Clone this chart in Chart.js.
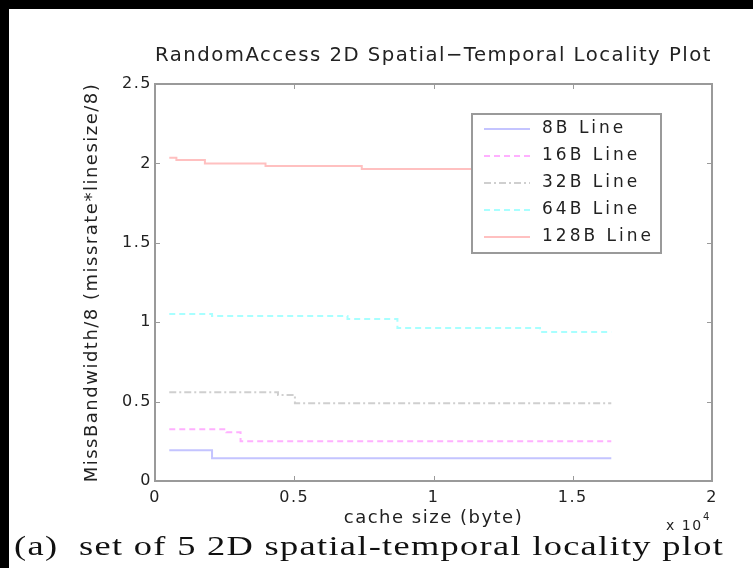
<!DOCTYPE html>
<html lang="en">
<head>
    <meta charset="UTF-8">
    <title>RandomAccess 2D Spatial-Temporal Locality Plot</title>
    <script src="https://cdn.jsdelivr.net/npm/chart.js"></script>
    <style>
        body { margin: 0; background: #000; width: 753px; height: 568px; overflow: hidden; position: relative; }
        #paper { position: absolute; left: 9px; top: 9px; width: 744px; height: 559px; background: #fff; }
        #plot { position: absolute; left: 0; top: 0; }
        #caption {
            position: absolute; left: 14px; top: 530px; white-space: pre;
            font-family: "Liberation Serif", "DejaVu Serif", serif; font-size: 28px; color: #111;
            letter-spacing: 1px; transform: scaleX(1.3); transform-origin: 0 0;
        }
    </style>
</head>
<body>
    <div id="paper"></div>
    <canvas id="plot" width="753" height="568"></canvas>
    <div id="caption">(a)  set of 5 2D spatial-temporal locality plot</div>

    <script>
        // cache size in bytes where each curve steps, and the value held from there on
        const line8x = [512, 2048, 16384];
        const line8y = [0.193, 0.143, 0.143];

        const line16x = [512, 2560, 3072, 16384];
        const line16y = [0.326, 0.307, 0.25, 0.25];

        const line32x = [512, 4416, 5024, 16384];
        const line32y = [0.559, 0.542, 0.489, 0.489];

        const line64x = [512, 2048, 6912, 8704, 13824, 16384];
        const line64y = [1.052, 1.039, 1.02, 0.963, 0.938, 0.938];

        const line128x = [512, 768, 1792, 3968, 7424, 16384];
        const line128y = [2.036, 2.021, 2.0, 1.984, 1.965, 1.965];

        const seriesLabels = ['8B Line', '16B Line', '32B Line', '64B Line', '128B Line'];
        const xTickLabels = ['0', '0.5', '1', '1.5', '2'];   // x 10^4
        const yTickLabels = ['0', '0.5', '1', '1.5', '2', '2.5'];

        const pts = (xs, ys) => xs.map((x, i) => ({ x: x, y: ys[i] }));

        const AXIS = '#9a9a9a';
        const FONT = '"DejaVu Sans", Verdana, sans-serif';

        // the old screen fonts are spaced out a bit
        const spacingPlugin = {
            id: 'spacing',
            beforeDraw(chart) { chart.ctx.letterSpacing = '1.5px'; }
        };

        // matlab style: box round the axes, ticks pointing inwards, legend in the corner
        const boxPlugin = {
            id: 'box',
            afterDatasetsDraw(chart) {
                const ctx = chart.ctx;
                const a = chart.chartArea;
                const xs = chart.scales.x, ys = chart.scales.y;
                ctx.save();
                ctx.strokeStyle = AXIS;
                ctx.lineWidth = 2;
                ctx.strokeRect(a.left, a.top, a.right - a.left, a.bottom - a.top);
                ctx.lineWidth = 1;
                ctx.beginPath();
                xs.ticks.forEach(t => {
                    const px = Math.round(xs.getPixelForValue(t.value)) + 0.5;
                    ctx.moveTo(px, a.bottom); ctx.lineTo(px, a.bottom - 5);
                    ctx.moveTo(px, a.top); ctx.lineTo(px, a.top + 5);
                });
                ys.ticks.forEach(t => {
                    const py = Math.round(ys.getPixelForValue(t.value)) + 0.5;
                    ctx.moveTo(a.left, py); ctx.lineTo(a.left + 5, py);
                    ctx.moveTo(a.right, py); ctx.lineTo(a.right - 5, py);
                });
                ctx.stroke();

                // legend
                const lx = 472, ly = 114, lw = 189, lh = 139;
                ctx.fillStyle = '#fff';
                ctx.fillRect(lx, ly, lw, lh);
                ctx.strokeStyle = AXIS;
                ctx.lineWidth = 2;
                ctx.strokeRect(lx, ly, lw, lh);
                ctx.font = '17px ' + FONT;
                ctx.letterSpacing = '3px';
                ctx.textBaseline = 'middle';
                chart.data.datasets.forEach((ds, i) => {
                    const y = ly + 15 + i * 27;
                    ctx.strokeStyle = ds.borderColor;
                    ctx.lineWidth = 2;
                    ctx.setLineDash(ds.borderDash || []);
                    ctx.beginPath();
                    ctx.moveTo(lx + 12, y); ctx.lineTo(lx + 58, y);
                    ctx.stroke();
                    ctx.setLineDash([]);
                    ctx.fillStyle = '#222';
                    ctx.fillText(ds.label, lx + 70, y);
                });

                // exponent of the x axis
                ctx.fillStyle = '#222';
                ctx.textBaseline = 'alphabetic';
                ctx.letterSpacing = '1.5px';
                ctx.font = '14px ' + FONT;
                ctx.fillText('x 10', 666, 530);
                ctx.font = '10px ' + FONT;
                ctx.fillText('4', 703, 520);
                ctx.restore();
            }
        };

        const ctx = document.getElementById('plot').getContext('2d');
        new Chart(ctx, {
            type: 'line',
            data: {
                datasets: [
                    { label: seriesLabels[0], data: pts(line8x, line8y), borderColor: '#c4c4ff' },
                    { label: seriesLabels[1], data: pts(line16x, line16y), borderColor: '#ffb0ff', borderDash: [6, 4] },
                    { label: seriesLabels[2], data: pts(line32x, line32y), borderColor: '#cfcfcf', borderDash: [7, 3, 2, 3] },
                    { label: seriesLabels[3], data: pts(line64x, line64y), borderColor: '#a8ffff', borderDash: [6, 4] },
                    { label: seriesLabels[4], data: pts(line128x, line128y), borderColor: '#ffc0c0' }
                ]
            },
            options: {
                responsive: false,
                animation: false,
                elements: {
                    line: { borderWidth: 2, stepped: 'before', tension: 0 },
                    point: { radius: 0 }
                },
                layout: { padding: { left: 0, right: 41, top: 0, bottom: 0 } },
                scales: {
                    x: {
                        type: 'linear',
                        min: 0, max: 20000,
                        afterFit: s => { s.height = 87; },
                        afterBuildTicks: s => { s.ticks = xTickLabels.map(v => ({ value: parseFloat(v) * 10000 })); },
                        grid: { display: false, drawTicks: false },
                        border: { display: false },
                        ticks: {
                            padding: 7,
                            color: '#222',
                            font: { family: FONT, size: 16 },
                            callback: (v, i) => xTickLabels[i]
                        },
                        title: {
                            display: true,
                            text: 'cache size (byte)',
                            color: '#222',
                            font: { family: FONT, size: 18 },
                            padding: { top: 0, bottom: 39 }
                        }
                    },
                    y: {
                        min: 0, max: 2.5,
                        afterFit: s => { s.width = 155; },
                        afterBuildTicks: s => { s.ticks = yTickLabels.map(v => ({ value: parseFloat(v) })); },
                        grid: { display: false, drawTicks: false },
                        border: { display: false },
                        ticks: {
                            padding: 3,
                            color: '#222',
                            font: { family: FONT, size: 16 },
                            callback: (v, i) => yTickLabels[i]
                        },
                        title: {
                            display: true,
                            text: 'MissBandwidth/8 (missrate*linesize/8)',
                            color: '#222',
                            font: { family: FONT, size: 18 },
                            padding: { top: 82, bottom: 0 }
                        }
                    }
                },
                plugins: {
                    legend: { display: false },
                    tooltip: { enabled: false },
                    title: {
                        display: true,
                        fullSize: false,
                        text: 'RandomAccess 2D Spatial\u2212Temporal Locality Plot',
                        color: '#222',
                        font: { family: FONT, size: 20, weight: 'normal' },
                        padding: { top: 44, bottom: 16 }
                    }
                }
            },
            plugins: [spacingPlugin, boxPlugin]
        });
    </script>
</body>
</html>
